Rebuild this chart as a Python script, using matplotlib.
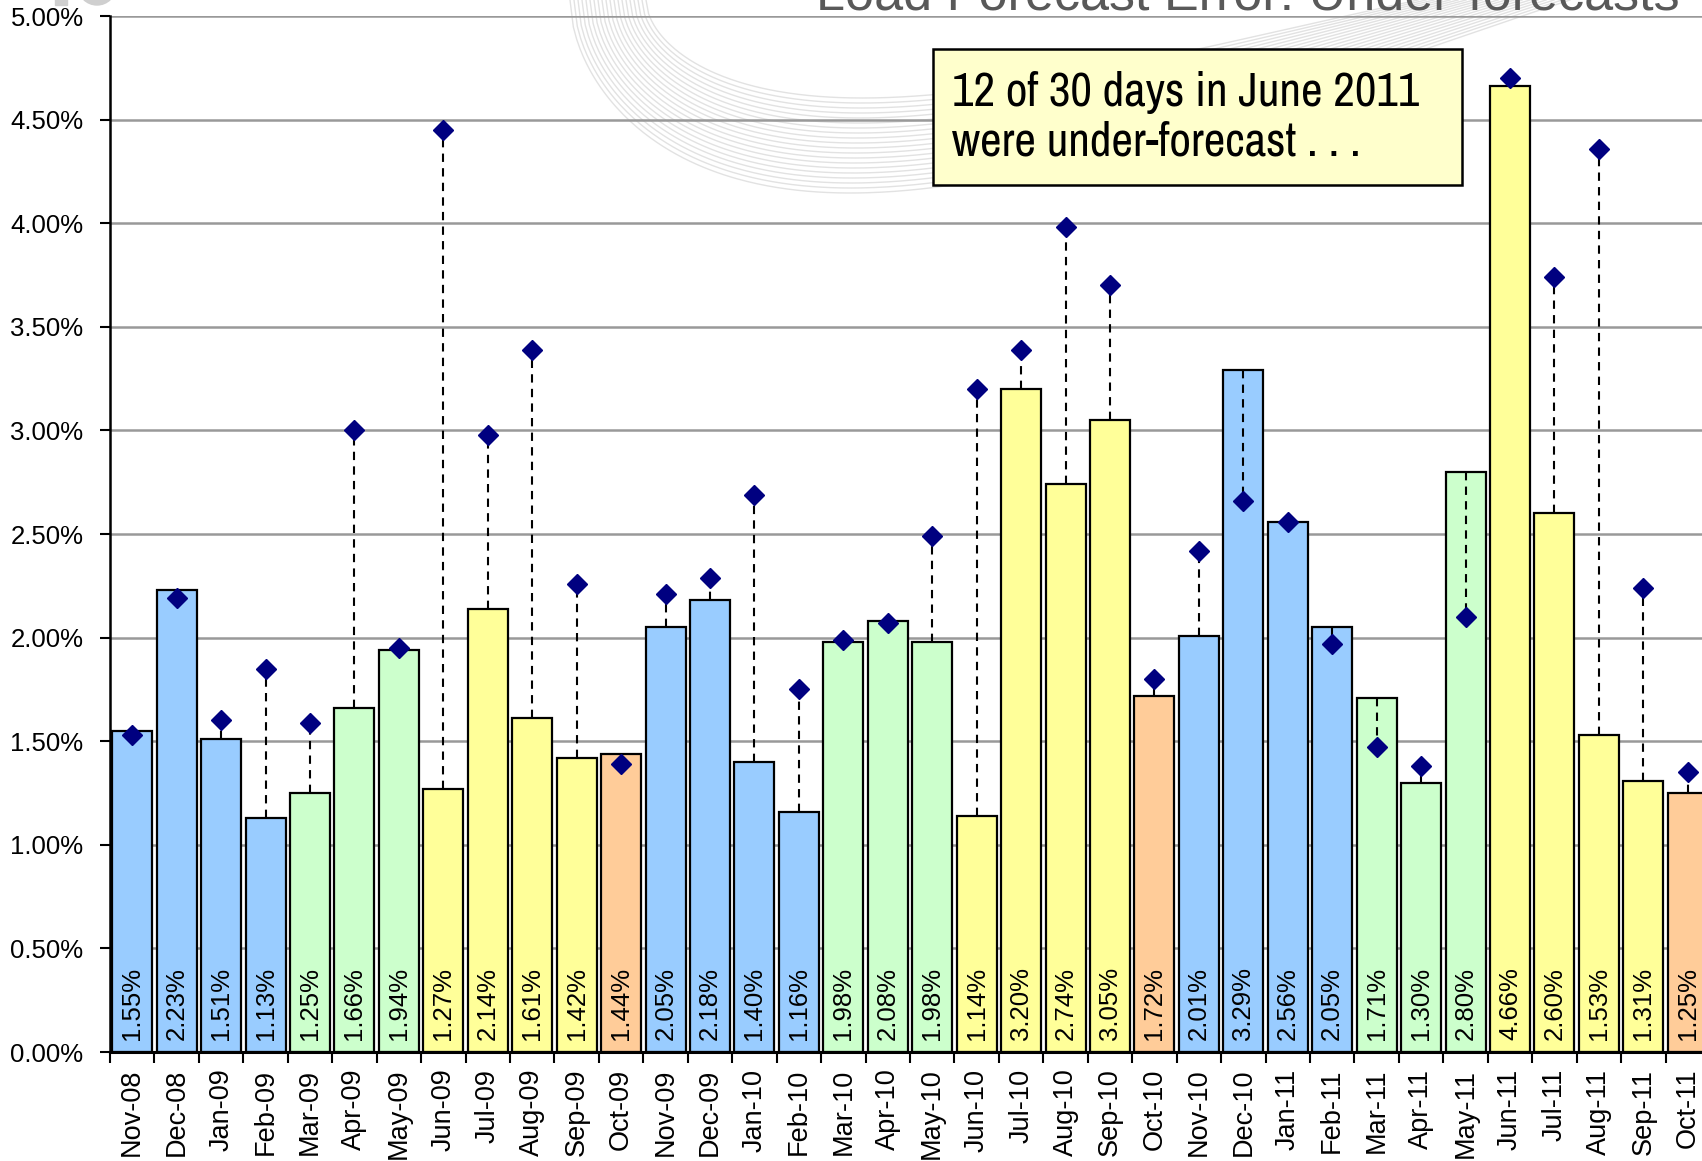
#!/usr/bin/env python3
"""
Load forecast error: monthly under-forecast bars with diamond markers.
"""

import numpy as np
import matplotlib
matplotlib.use('Agg')
import matplotlib.pyplot as plt
from matplotlib import font_manager
from matplotlib.ticker import FuncFormatter, MultipleLocator
from matplotlib.patches import Rectangle

# months shown on the x axis
months = ['Nov-08', 'Dec-08', 'Jan-09', 'Feb-09', 'Mar-09', 'Apr-09', 'May-09',
          'Jun-09', 'Jul-09', 'Aug-09', 'Sep-09', 'Oct-09', 'Nov-09', 'Dec-09',
          'Jan-10', 'Feb-10', 'Mar-10', 'Apr-10', 'May-10', 'Jun-10', 'Jul-10',
          'Aug-10', 'Sep-10', 'Oct-10', 'Nov-10', 'Dec-10', 'Jan-11', 'Feb-11',
          'Mar-11', 'Apr-11', 'May-11', 'Jun-11', 'Jul-11', 'Aug-11', 'Sep-11',
          'Oct-11']

# bar values (%)
bar_values = [1.55, 2.23, 1.51, 1.13, 1.25, 1.66, 1.94, 1.27, 2.14, 1.61, 1.42,
              1.44, 2.05, 2.18, 1.40, 1.16, 1.98, 2.08, 1.98, 1.14, 3.20, 2.74,
              3.05, 1.72, 2.01, 3.29, 2.56, 2.05, 1.71, 1.30, 2.80, 4.66, 2.60,
              1.53, 1.31, 1.25]

# diamond marker values (%)
marker_values = [1.53, 2.19, 1.60, 1.85, 1.59, 3.00, 1.95, 4.45, 2.98, 3.39,
                 2.26, 1.39, 2.21, 2.29, 2.69, 1.75, 1.99, 2.07, 2.49, 3.20,
                 3.39, 3.98, 3.70, 1.80, 2.42, 2.66, 2.56, 1.97, 1.47, 1.38,
                 2.10, 4.70, 3.74, 4.36, 2.24, 1.35]

# season of each month
seasons = ['winter', 'winter', 'winter', 'winter', 'spring', 'spring', 'spring',
           'summer', 'summer', 'summer', 'summer', 'fall', 'winter', 'winter',
           'winter', 'winter', 'spring', 'spring', 'spring', 'summer', 'summer',
           'summer', 'summer', 'fall', 'winter', 'winter', 'winter', 'winter',
           'spring', 'spring', 'spring', 'summer', 'summer', 'summer', 'summer',
           'fall']

season_colors = {'winter': '#99CCFF', 'spring': '#CCFFCC',
                 'summer': '#FFFF99', 'fall': '#FFCC99'}

plt.rcParams['font.family'] = ['Liberation Sans', 'DejaVu Sans']

# narrow font for the callout if one is installed
narrow = None
for f in font_manager.fontManager.ttflist:
    if 'Narrow' in f.name or 'Condensed' in f.name:
        narrow = f.name
        break
if narrow:
    box_font, box_size = [narrow, 'Liberation Sans'], 34
else:
    box_font, box_size = ['Liberation Sans', 'DejaVu Sans'], 28

W, H = 1702, 1161
fig = plt.figure(figsize=(W / 100, H / 100), dpi=100)

# faint background watermark (nested swoosh curves)
wm = fig.add_axes([0, 0, 1, 1], zorder=0)
wm.set_xlim(0, W)
wm.set_ylim(H, 0)
wm.axis('off')
t = np.linspace(0, 1, 300)
for k in range(20):
    a = 570 + 4 * k
    b = 1570 - 8 * k
    depth = 193 - 5 * k
    xs = a + (b - a) * t
    ys = depth * np.sin(np.pi * t ** 0.545)
    wm.plot(xs, ys, color='#e2e2e2', lw=1.0)
wm.add_patch(Rectangle((55, -5), 12, 10, color='#cfcfcf'))
wm.add_patch(plt.Circle((97, -14), 19, color='#cfcfcf'))
wm.add_patch(plt.Circle((97, -14), 9, color='white'))

left, right = 110, 1710
top, bottom = 16, 1052
ax = fig.add_axes([left / W, 1 - bottom / H, (right - left) / W, (bottom - top) / H],
                  zorder=1)
ax.patch.set_alpha(0)

x = np.arange(len(months))
colors = [season_colors[s] for s in seasons]
ax.bar(x, bar_values, width=0.9, color=colors, edgecolor='black', linewidth=1.6,
       zorder=2)

# dashed connectors from bar top to marker
for xi, b, m in zip(x, bar_values, marker_values):
    ax.plot([xi, xi], [b, m], color='black', linestyle=(0, (4, 3)), lw=1.5, zorder=3)

ax.plot(x, marker_values, linestyle='none', marker='D', markersize=10.5,
        color='#000080', zorder=4)

# value labels inside bars
for xi, b in zip(x, bar_values):
    ax.text(xi, 0.058, f'{b:.2f}%', rotation=90, ha='center', va='bottom',
            fontsize=18.5, zorder=5)

ax.set_xlim(-0.5, len(months) - 0.5)
ax.set_ylim(0, 5)
ax.yaxis.set_major_locator(MultipleLocator(0.5))
ax.yaxis.set_major_formatter(FuncFormatter(lambda v, p: f'{v:.2f}%'))
ax.grid(True, axis='y', color='#999999', linewidth=1.8, zorder=0)
ax.set_axisbelow(True)

ax.set_xticks(x)
ax.set_xticklabels(months, rotation=90, fontsize=19.5)
ax.set_xticks(np.arange(-0.5, len(months), 1), minor=True)
ax.tick_params(axis='x', which='major', length=0, pad=12)
ax.tick_params(axis='x', which='minor', length=8, width=1.5)
ax.tick_params(axis='y', length=7, width=1.5, labelsize=18.5, pad=12)

for s in ['top', 'right']:
    ax.spines[s].set_visible(False)
ax.spines['left'].set_linewidth(1.8)
ax.spines['bottom'].set_linewidth(2.2)

# annotation box (pixel geometry converted to axes fractions)
def ax_frac(px, py):
    return (px - left) / (right - left), (bottom - py) / (bottom - top)

bx0, by0 = ax_frac(933, 185)
bx1, by1 = ax_frac(1462, 49)
ax.add_patch(Rectangle((bx0, by0), bx1 - bx0, by1 - by0, transform=ax.transAxes,
                       facecolor='#FFFFCC', edgecolor='black', linewidth=1.8,
                       zorder=6, clip_on=False))
tx, ty = ax_frac(952, 117)
ax.text(tx, ty, '12 of 30 days in June 2011\nwere under-forecast . . .',
        transform=ax.transAxes, fontsize=box_size, va='center', ha='left',
        family=box_font, linespacing=1.2, zorder=7)

# title cut off at the top edge
fig.text(1680 / W, 1 - 9 / H, 'Load Forecast Error: Under-forecasts', ha='right',
         va='baseline', fontsize=37.5, color='#595959')

plt.savefig('out.png', dpi=100)
plt.close()
